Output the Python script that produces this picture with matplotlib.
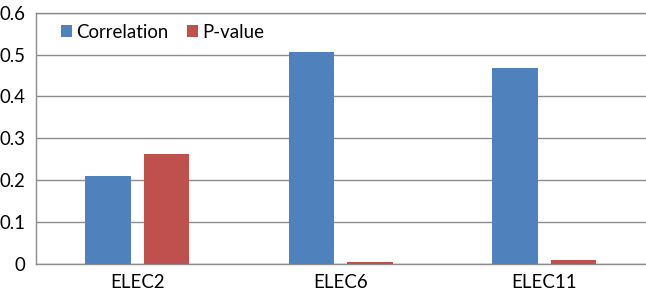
import matplotlib
matplotlib.use("Agg")
import matplotlib.pyplot as plt
import numpy as np

categories = ["ELEC2", "ELEC6", "ELEC11"]
correlation = [0.21, 0.506, 0.468]
p_value = [0.263, 0.003, 0.009]
series_names = ["Correlation", "P-value"]
yticks = [0, 0.1, 0.2, 0.3, 0.4, 0.5, 0.6]
ytick_labels = ["0", "0.1", "0.2", "0.3", "0.4", "0.5", "0.6"]

plt.rcParams['font.family'] = ['Lato', 'DejaVu Sans']

W, H = 646, 294
fig = plt.figure(figsize=(W/100, H/100), dpi=100)
ax = fig.add_axes([35.5/W, (H-263.7)/H, (W-35.5)/W, (263.7-12.7)/H])

x = np.arange(len(categories))
w = 0.224
off = 0.143
ax.bar(x - off, correlation, width=w, color="#4F81BD", label=series_names[0], zorder=3)
ax.bar(x + off, p_value, width=w, color="#C0504D", label=series_names[1], zorder=3)

ax.set_xlim(-0.5, len(categories) - 0.5)
ax.set_ylim(0, 0.6)
ax.set_yticks(yticks)
ax.set_yticklabels(ytick_labels)
ax.set_xticks(x)
ax.set_xticklabels(categories)
fs = 13.4
ax.tick_params(axis='y', length=0, pad=7.5, labelsize=fs, labelcolor='black')
ax.tick_params(axis='x', length=0, pad=7.5, labelsize=fs, labelcolor='black')

ax.yaxis.grid(True, color="#8c8c8c", linewidth=1.0, zorder=0)
ax.set_axisbelow(True)
for s in ['right']:
    ax.spines[s].set_visible(False)
for s in ['left', 'bottom', 'top']:
    ax.spines[s].set_color("#8c8c8c")
    ax.spines[s].set_linewidth(1.0)

leg = ax.legend(loc='upper left', bbox_to_anchor=(0.03, 0.985), ncol=2, frameon=False,
                fontsize=fs, handlelength=0.6, handleheight=0.6, handletextpad=0.2,
                columnspacing=1.0, borderaxespad=0)

fig.savefig("out.png", dpi=100)
